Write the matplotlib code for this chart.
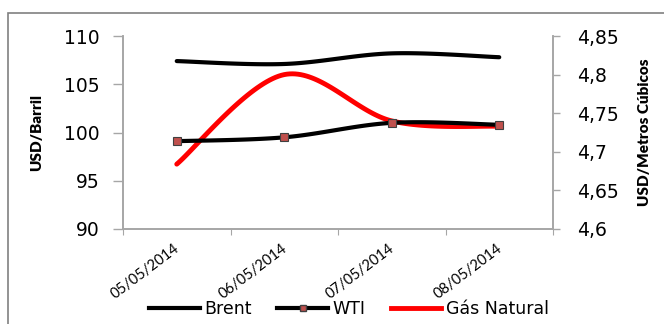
"""Brent, WTI and natural gas prices, 05/05/2014 to 08/05/2014, on twin axes."""

import matplotlib

matplotlib.use("Agg")

import matplotlib.pyplot as plt
import numpy as np
from matplotlib.lines import Line2D
from matplotlib.patches import Rectangle
from matplotlib.ticker import FuncFormatter

dates = ["05/05/2014", "06/05/2014", "07/05/2014", "08/05/2014"]
brent = [107.4, 107.1, 108.2, 107.8]
wti = [99.1, 99.5, 101.0, 100.8]
gas = [4.684, 4.800, 4.740, 4.733]

GRID_GREY = "#a6a6a6"


def smooth(values, steps=40):
    """Excel-style smoothed line: cubic Bezier segments, control points at 1/6 of neighbour slope."""
    pts = np.column_stack([np.arange(len(values), dtype=float), np.asarray(values, float)])
    padded = np.vstack([pts[0], pts, pts[-1]])
    t = np.linspace(0, 1, steps)[:, None]
    out = []
    for i in range(len(pts) - 1):
        p0, p1, p2, p3 = padded[i], padded[i + 1], padded[i + 2], padded[i + 3]
        c1 = p1 + (p2 - p0) / 6
        c2 = p2 - (p3 - p1) / 6
        seg = ((1 - t) ** 3) * p1 + 3 * ((1 - t) ** 2) * t * c1 + 3 * (1 - t) * t ** 2 * c2 + t ** 3 * p2
        out.append(seg if i == 0 else seg[1:])
    curve = np.vstack(out)
    return curve[:, 0], curve[:, 1]


fig = plt.figure(figsize=(6.64, 3.24), dpi=100)
fig.patches.append(
    Rectangle((8 / 664, -0.1), 1.0, 1 - 13 / 324 + 0.1, transform=fig.transFigure,
              fill=False, edgecolor="#808080", linewidth=1.2)
)
ax = fig.add_axes([123 / 664, 1 - 229 / 324, (553 - 123) / 664, (229 - 36) / 324])
ax2 = ax.twinx()

x = np.arange(len(dates))
bx, by = smooth(brent)
ax.plot(bx, by, color="black", linewidth=3, solid_capstyle="round", zorder=3)
wx, wy = smooth(wti)
ax.plot(wx, wy, color="black", linewidth=3, solid_capstyle="round", zorder=3)
ax.plot(x, wti, linestyle="", marker="s", markersize=6, markerfacecolor="#c0504d",
        markeredgecolor="#404040", markeredgewidth=0.8, zorder=4)
gx, gy = smooth(gas)
ax2.plot(gx, gy, color="#ff0000", linewidth=3.5, solid_capstyle="round", zorder=3)

ax.set_xlim(-0.5, len(dates) - 0.5)
ax.set_ylim(90, 110)
ax.set_yticks(np.arange(90, 111, 5))
ax2.set_ylim(4.6, 4.85)
ax2.set_yticks([4.6, 4.65, 4.7, 4.75, 4.8, 4.85])
ax2.yaxis.set_major_formatter(FuncFormatter(lambda v, _: f"{v:.2f}".rstrip("0").replace(".", ",")))

ax.set_xticks(np.arange(len(dates) + 1) - 0.5)
ax.set_xticklabels([])
ax.set_xticks(x - 0.03, minor=True)
ax.set_xticklabels(dates, minor=True, rotation=37, ha="right", rotation_mode="anchor",
                   fontsize=10.5, family="Lato")
ax.tick_params(axis="x", which="minor", length=0, pad=9)
ax.tick_params(axis="x", which="major", length=4, color=GRID_GREY)

for a in (ax, ax2):
    a.spines["top"].set_visible(False)
    for side in ("left", "right", "bottom"):
        a.spines[side].set_color(GRID_GREY)
        a.spines[side].set_linewidth(1.2)
ax.tick_params(axis="y", length=7, width=1, color=GRID_GREY, labelsize=13.5, pad=10)
ax2.tick_params(axis="y", length=5, width=1, color=GRID_GREY, labelsize=13.5, pad=12)
ax.set_ylabel("USD/Barril", fontsize=11, family="Lato", fontweight="heavy", labelpad=15)
ax2.set_ylabel("USD/Metros Cúbicos", fontsize=11, family="Lato", fontweight="heavy", labelpad=14)
ax.set_zorder(ax2.get_zorder() + 1)
ax.patch.set_visible(False)

handles = [
    Line2D([], [], color="black", linewidth=3, label="Brent"),
    Line2D([], [], color="black", linewidth=3, marker="s", markersize=5,
           markerfacecolor="#c0504d", markeredgecolor="#404040", label="WTI"),
    Line2D([], [], color="#ff0000", linewidth=3.5, label="Gás Natural"),
]
fig.legend(handles=handles, loc="center", bbox_to_anchor=(349 / 664, 1 - 309 / 324), ncol=3,
           frameon=False, fontsize=12.5, handlelength=2.9, handletextpad=0.25, columnspacing=1.5)

fig.savefig("out.png", dpi=100)
